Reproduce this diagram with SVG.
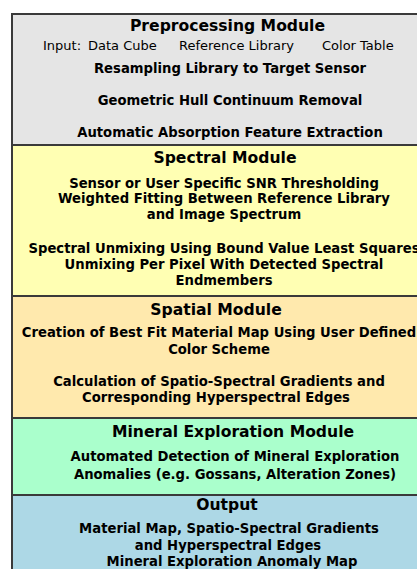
<svg xmlns="http://www.w3.org/2000/svg" width="417" height="569" viewBox="0 0 417 569">
  <style>
    .box { stroke: #3a3a3a; stroke-width: 2; }
    .title { font-family: "DejaVu Sans", sans-serif; font-weight: bold; font-size: 15.6px; fill: #000; text-anchor: middle; }
    .item { font-family: "DejaVu Sans", sans-serif; font-weight: bold; font-size: 13.2px; fill: #000; text-anchor: middle; }
    .input { font-family: "DejaVu Sans", sans-serif; font-size: 13px; fill: #000; }
  </style>
  <rect width="417" height="569" fill="#ffffff"/>

  <g id="preprocessing">
    <rect class="box" x="12" y="14" width="420" height="131" fill="#e5e5e5"/>
    <text class="title" x="227.5" y="31">Preprocessing Module</text>
    <text class="input" x="43" y="50">Input:</text>
    <text class="input" x="88" y="50">Data Cube</text>
    <text class="input" x="179" y="50">Reference Library</text>
    <text class="input" x="322" y="50">Color Table</text>
    <text class="item" x="230" y="73">Resampling Library to Target Sensor</text>
    <text class="item" x="230" y="105">Geometric Hull Continuum Removal</text>
    <text class="item" x="230" y="137">Automatic Absorption Feature Extraction</text>
  </g>

  <g id="spectral">
    <rect class="box" x="12" y="145" width="420" height="151" fill="#ffffb3"/>
    <text class="title" x="225" y="163">Spectral Module</text>
    <text class="item" x="224" y="188">Sensor or User Specific SNR Thresholding</text>
    <text class="item" x="224" y="203">Weighted Fitting Between Reference Library</text>
    <text class="item" x="224" y="219">and Image Spectrum</text>
    <text class="item" x="224" y="253">Spectral Unmixing Using Bound Value Least Squares</text>
    <text class="item" x="224" y="269">Unmixing Per Pixel With Detected Spectral</text>
    <text class="item" x="224" y="285">Endmembers</text>
  </g>

  <g id="spatial">
    <rect class="box" x="12" y="296" width="420" height="122" fill="#ffe9ad"/>
    <text class="title" x="216" y="315">Spatial Module</text>
    <text class="item" x="219" y="337">Creation of Best Fit Material Map Using User Defined</text>
    <text class="item" x="219" y="354">Color Scheme</text>
    <text class="item" x="219" y="386">Calculation of Spatio-Spectral Gradients and</text>
    <text class="item" x="216" y="402">Corresponding Hyperspectral Edges</text>
  </g>

  <g id="mineral-exploration">
    <rect class="box" x="12" y="418" width="420" height="77" fill="#aaffcc"/>
    <text class="title" x="233" y="437">Mineral Exploration Module</text>
    <text class="item" x="235" y="461">Automated Detection of Mineral Exploration</text>
    <text class="item" x="235" y="479">Anomalies (e.g. Gossans, Alteration Zones)</text>
  </g>

  <g id="output">
    <rect class="box" x="12" y="495" width="420" height="90" fill="#add8e6"/>
    <text class="title" x="227" y="510">Output</text>
    <text class="item" x="229" y="533">Material Map, Spatio-Spectral Gradients</text>
    <text class="item" x="228" y="550">and Hyperspectral Edges</text>
    <text class="item" x="232" y="566">Mineral Exploration Anomaly Map</text>
  </g>

  <g id="connectors"></g>
</svg>
